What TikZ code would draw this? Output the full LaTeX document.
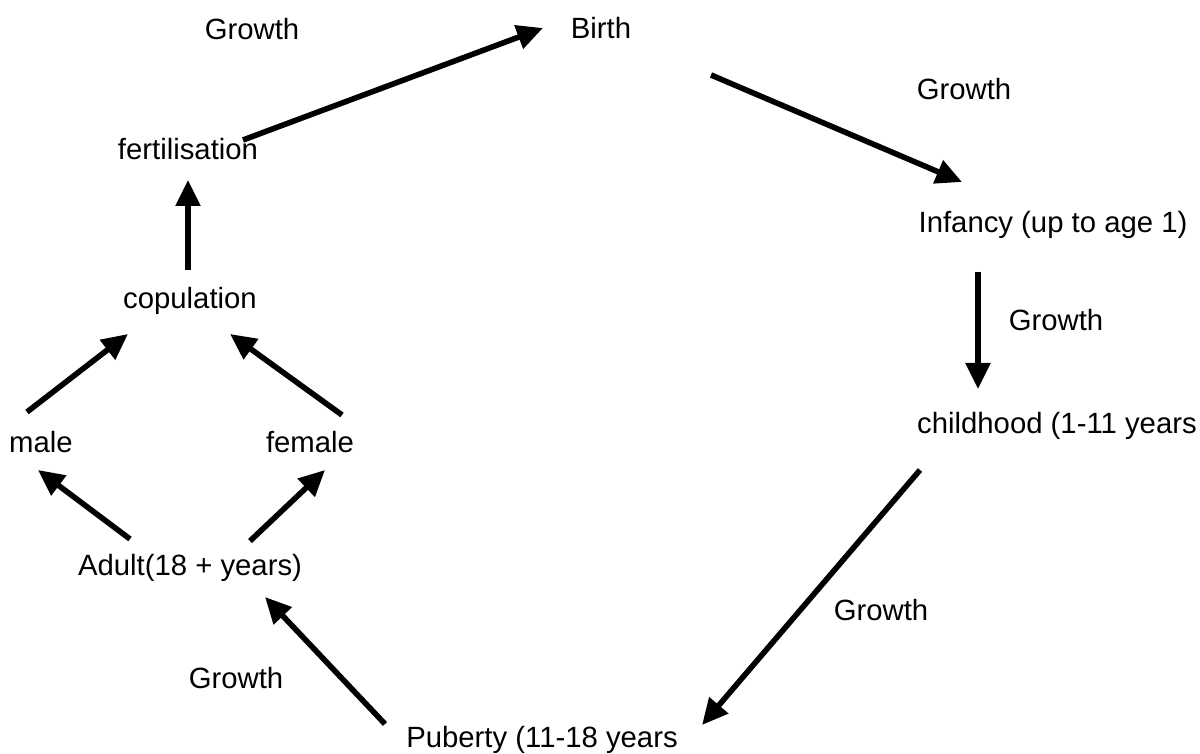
\documentclass[tikz,border=0pt]{standalone}
\usepackage{fontspec}
\setmainfont{Liberation Sans}
\usetikzlibrary{arrows.meta}
\begin{document}
\begin{tikzpicture}[x=0.5pt,y=-0.5pt,
  lbl/.style={anchor=base,inner sep=0pt,font=\fontsize{14.65pt}{17pt}\selectfont},
  flow/.style={line width=2.8pt,-{Triangle[length=13pt,width=12pt]}}]
\useasboundingbox (0,0) rectangle (1200,754);
% stages of the cycle
\node[lbl] (birth)   at (601,39)  {Birth};
\node[lbl] (infancy) at (1053,233) {Infancy (up to age 1)};
\node[lbl] (child)   at (1057,433) {childhood (1-11 years};
\node[lbl] (puberty) at (542,747) {Puberty (11-18 years};
\node[lbl] (adult)   at (190,575) {Adult(18 + years)};
\node[lbl] (male)    at (41,452)  {male};
\node[lbl] (female)  at (310,452) {female};
\node[lbl] (copul)   at (190,309) {copulation};
\node[lbl] (fert)    at (188,160) {fertilisation};
% growth labels
\node[lbl] (g1) at (252,40)  {Growth};
\node[lbl] (g2) at (964,100) {Growth};
\node[lbl] (g3) at (1056,330) {Growth};
\node[lbl] (g4) at (881,620) {Growth};
\node[lbl] (g5) at (236,688) {Growth};
% arrow end points
\coordinate (fert-o)  at (243,140);
\coordinate (birth-i) at (543,28);
\coordinate (birth-o) at (711,75);
\coordinate (inf-i)   at (962,182);
\coordinate (inf-o)   at (978,272);
\coordinate (child-i) at (978,389);
\coordinate (child-o) at (920,470);
\coordinate (pub-i)   at (702,725);
\coordinate (pub-o)   at (385,724);
\coordinate (adult-i) at (265,597);
\coordinate (adult-l) at (130,539);
\coordinate (male-i)  at (38,470);
\coordinate (adult-r) at (250,541);
\coordinate (fem-i)   at (325,470);
\coordinate (male-o)  at (27,412);
\coordinate (cop-l)   at (128,334);
\coordinate (fem-o)   at (342,415);
\coordinate (cop-r)   at (230,334);
\coordinate (cop-o)   at (188,270);
\coordinate (fert-i)  at (188,180);
% arrows
\draw[flow] (fert-o) -- (birth-i);
\draw[flow] (birth-o) -- (inf-i);
\draw[flow] (inf-o) -- (child-i);
\draw[flow] (child-o) -- (pub-i);
\draw[flow] (pub-o) -- (adult-i);
\draw[flow] (adult-l) -- (male-i);
\draw[flow] (adult-r) -- (fem-i);
\draw[flow] (male-o) -- (cop-l);
\draw[flow] (fem-o) -- (cop-r);
\draw[flow] (cop-o) -- (fert-i);
\end{tikzpicture}
\end{document}
